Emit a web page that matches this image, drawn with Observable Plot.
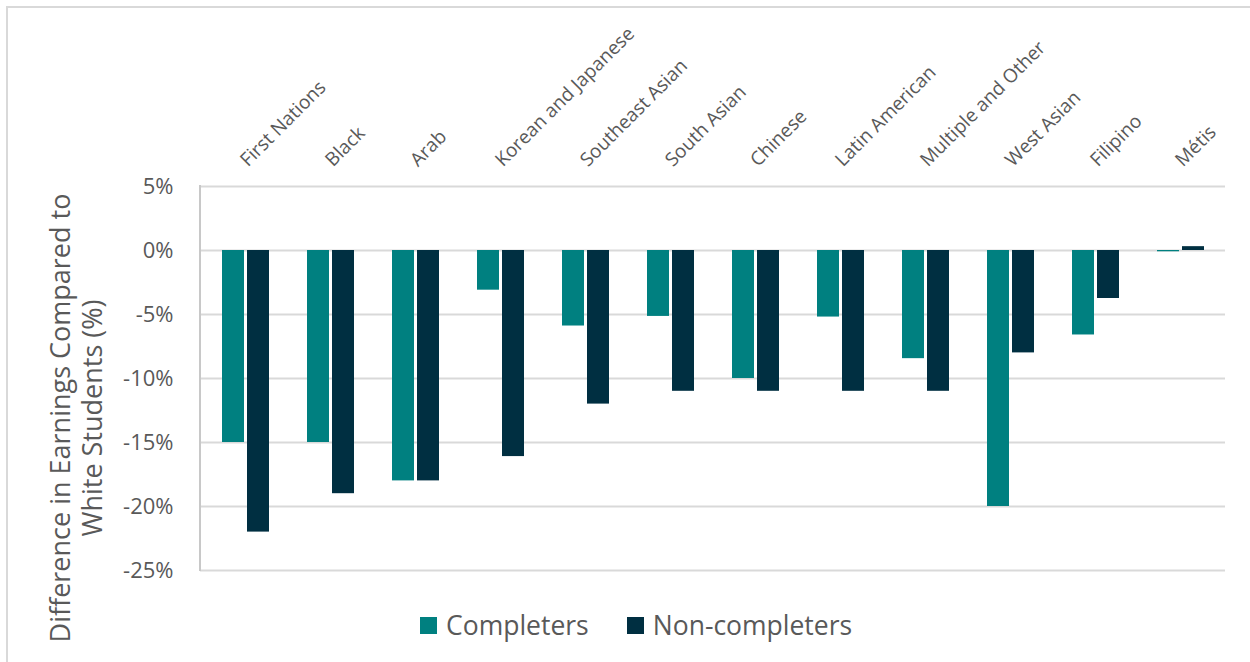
<!DOCTYPE html>
<html>
<head>
<meta charset="utf-8">
<script src="https://cdn.jsdelivr.net/npm/d3@7"></script>
<script src="https://cdn.jsdelivr.net/npm/@observablehq/plot@0.6"></script>
<style>
  body { margin: 0; background: #fff; font-family: "Open Sans", sans-serif; }
  #wrap { position: relative; width: 1250px; height: 662px; overflow: hidden; background: #fff; }
  #border { position: absolute; left: 6px; top: 6px; width: 1300px; height: 720px; border: 2px solid #d9d9d9; box-sizing: border-box; }
  #chart { position: absolute; left: 0; top: 0; }
  #ytitle { position: absolute; width: 500px; height: 70px; left: -171px; top: 383px; transform: rotate(-90deg);
            text-align: center; font-size: 27px; line-height: 32px; color: #595959; }
  #legend { position: absolute; left: 420px; top: 605px; height: 40px; display: flex; align-items: center;
            font-size: 26.5px; color: #595959; }
  .item { display: flex; align-items: center; }
  .sw { width: 17px; height: 17px; margin-right: 9px; }
</style>
</head>
<body>
<div id="wrap">
  <div id="border"></div>
  <div id="chart"></div>
  <div id="ytitle">Difference in Earnings Compared to<br>White Students (%)</div>
  <div id="legend"></div>
</div>
<script>
const categories = ["First Nations", "Black", "Arab", "Korean and Japanese", "Southeast Asian", "South Asian",
  "Chinese", "Latin American", "Multiple and Other", "West Asian", "Filipino", "Métis"];
const completers    = [-15, -15, -18, -3.1, -5.9, -5.15, -10, -5.2, -8.45, -20, -6.6, -0.1];
const nonCompleters = [-22, -19, -18, -16.1, -12, -11, -11, -11, -11, -8, -3.75, 0.3];
const seriesNames = ["Completers", "Non-completers"];
const seriesColors = ["#008080", "#002f41"];
const yTicks = [5, 0, -5, -10, -15, -20, -25];

const rowsC = categories.map((c, i) => ({category: c, value: completers[i]}));
const rowsN = categories.map((c, i) => ({category: c, value: nonCompleters[i]}));

const leftLine = (index, scales, values, dimensions) => {
  const l = document.createElementNS("http://www.w3.org/2000/svg", "line");
  const x = dimensions.marginLeft;
  l.setAttribute("x1", x); l.setAttribute("x2", x);
  l.setAttribute("y1", scales.y(yTicks[0]) - 1);
  l.setAttribute("y2", scales.y(yTicks[yTicks.length - 1]) + 1);
  l.setAttribute("stroke", "#c8c8c8");
  l.setAttribute("stroke-width", 2);
  return l;
};

const plot = Plot.plot({
  width: 1250,
  height: 662,
  marginLeft: 200,
  marginRight: 25,
  marginTop: 186,
  marginBottom: 92,
  style: {fontFamily: "'Open Sans', sans-serif", fontSize: "22px", color: "#595959", background: "transparent"},
  x: {domain: categories, paddingInner: 0.45, paddingOuter: 0.225, axis: null},
  y: {domain: [-25, 5], ticks: yTicks, tickFormat: d => `${d}%`, tickSize: 0, tickPadding: 27, label: null},
  marks: [
    Plot.ruleY(yTicks, {stroke: "#d9d9d9", strokeWidth: 2}),
    leftLine,
    Plot.barY(rowsC, {x: "category", y: "value", fill: seriesColors[0], insetRight: 25}),
    Plot.barY(rowsN, {x: "category", y: "value", fill: seriesColors[1], insetLeft: 25}),
    Plot.text(categories, {x: d => d, frameAnchor: "top", dy: -19, dx: 2, rotate: -45,
      textAnchor: "start", lineAnchor: "bottom", fontSize: 19, fill: "#595959"})
  ]
});
document.getElementById("chart").appendChild(plot);

const legend = document.getElementById("legend");
seriesNames.forEach((name, i) => {
  const item = document.createElement("div");
  item.className = "item";
  if (i === 0) item.style.marginRight = "38px";
  const sw = document.createElement("div");
  sw.className = "sw";
  sw.style.background = seriesColors[i];
  const label = document.createElement("span");
  label.textContent = name;
  item.appendChild(sw); item.appendChild(label);
  legend.appendChild(item);
});
</script>
</body>
</html>
